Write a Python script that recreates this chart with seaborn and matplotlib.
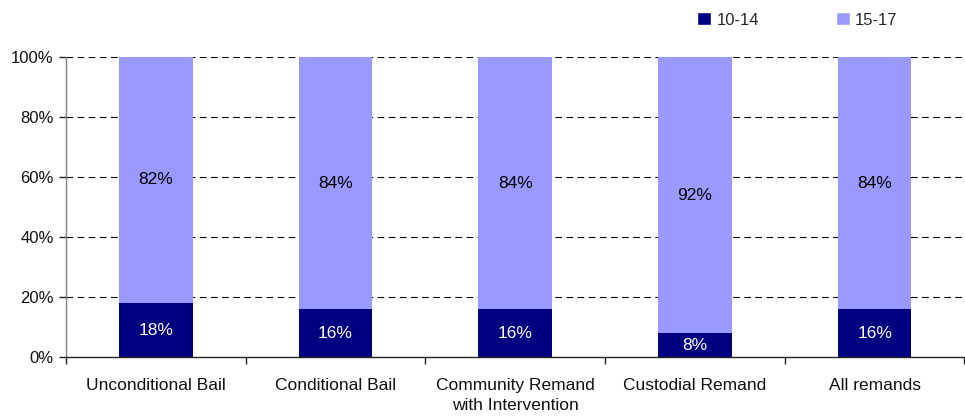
import matplotlib
matplotlib.use("Agg")
import matplotlib.pyplot as plt
from matplotlib.patches import Patch
from matplotlib.ticker import FixedLocator, PercentFormatter
import numpy as np
import pandas as pd
import seaborn as sns

categories = ["Unconditional Bail", "Conditional Bail", "Community Remand\nwith Intervention",
              "Custodial Remand", "All remands"]
age_10_14 = [18, 16, 16, 8, 16]
age_15_17 = [82, 84, 84, 92, 84]
series_names = ["10-14", "15-17"]
y_ticks = [0, 20, 40, 60, 80, 100]

dark = "#000080"
light = "#9999FF"

sns.set_theme(style="white")
plt.rcParams["font.family"] = ["Liberation Sans", "DejaVu Sans"]

df = pd.DataFrame({"category": categories, "young": age_10_14, "old": age_15_17})
df["total"] = df["young"] + df["old"]

fig = plt.figure(figsize=(9.65, 4.16), dpi=100)
ax = fig.add_axes([0.0684, 0.1418, 0.931, 0.7212])

# stacked bars: full height in the light colour, the younger group drawn over it
sns.barplot(data=df, x="category", y="total", color=light, saturation=1, width=0.41,
            linewidth=0, ax=ax)
sns.barplot(data=df, x="category", y="young", color=dark, saturation=1, width=0.41,
            linewidth=0, ax=ax)

for i, (y, o) in enumerate(zip(age_10_14, age_15_17)):
    ax.text(i, y / 2, f"{y}%", ha="center", va="center", color="white", fontsize=12.5)
    ax.text(i, y + o / 2, f"{o}%", ha="center", va="center", color="black", fontsize=12.5)

ax.set_xlim(-0.5, len(categories) - 0.5)
ax.set_ylim(0, 100)
ax.set_yticks(y_ticks)
ax.yaxis.set_major_formatter(PercentFormatter(decimals=0))
ax.set_xlabel("")
ax.set_ylabel("")

for v in y_ticks[1:]:
    ax.axhline(v, color="black", linestyle=(0, (6, 4)), linewidth=0.8, zorder=0)

ax.tick_params(axis="x", which="major", length=0, labelsize=12.5, pad=15, colors="#111111")
for lbl in ax.get_xticklabels():
    lbl.set_linespacing(1.45)
ax.xaxis.set_minor_locator(FixedLocator(np.arange(-0.5, len(categories), 1.0)))
ax.tick_params(axis="x", which="minor", length=5, width=1, color="#222222", direction="out", bottom=True)
ax.tick_params(axis="y", length=5, width=1, color="#222222", direction="out", left=True,
               labelsize=12, labelcolor="#111111", pad=4)

for side in ["top", "right"]:
    ax.spines[side].set_visible(False)
ax.spines["left"].set_color("#808080")
ax.spines["left"].set_linewidth(1)
ax.spines["bottom"].set_color("#222222")
ax.spines["bottom"].set_linewidth(1)

handles = [Patch(facecolor=dark, label=series_names[0]),
           Patch(facecolor=light, label=series_names[1])]
fig.legend(handles=handles, loc="upper left", bbox_to_anchor=(0.707, 1.007), ncol=2,
           frameon=False, fontsize=12, handlelength=0.85, handleheight=0.85,
           handletextpad=0.3, columnspacing=4.6)

fig.savefig("out.png", dpi=100)
